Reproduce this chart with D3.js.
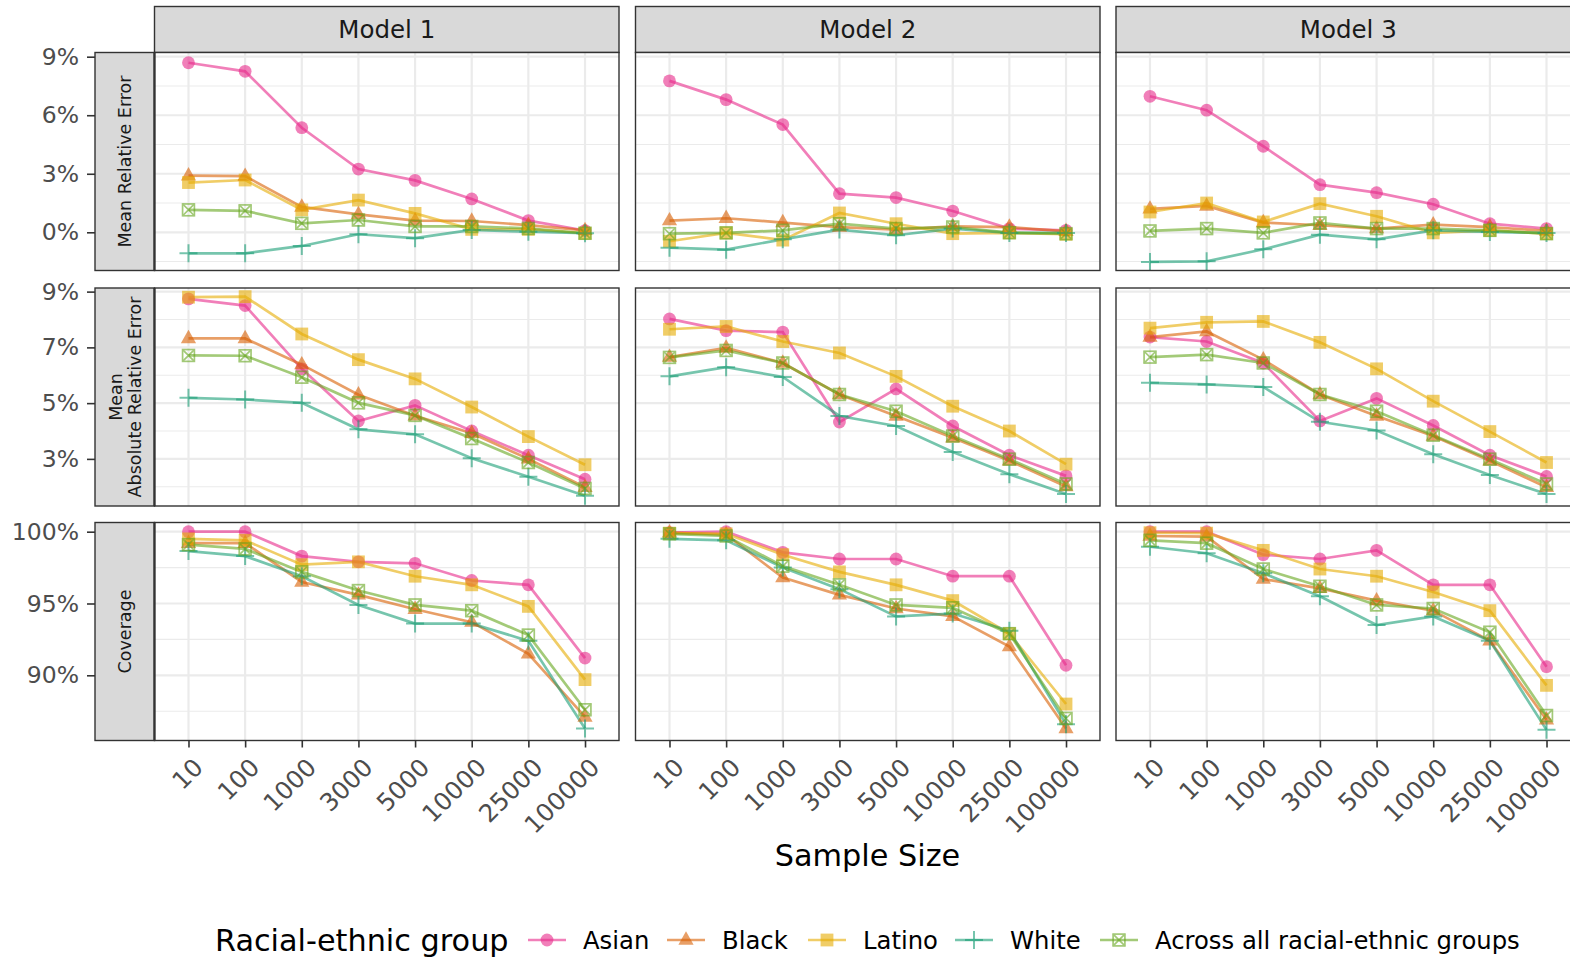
<!DOCTYPE html>
<html><head><meta charset="utf-8">
<script src="https://cdn.jsdelivr.net/npm/d3@7"></script>
<style>
body{margin:0;background:#fff}
text{font-family:"DejaVu Sans",sans-serif}
</style>
</head><body><svg id="c" width="1570" height="959"></svg>
<script>
// ---------------- DATA ----------------
const sampleSizes = ["10","100","1000","3000","5000","10000","25000","100000"];
const models = ["Model 1","Model 2","Model 3"];
const groups = ["Asian","Black","Latino","White","Across all racial-ethnic groups"];
const groupColors = ["#E7298A","#D95F02","#E6AB02","#1B9E77","#66A61E"];
const groupShapes = ["circle","triangle","square","plus","squarecross"];
const metrics = ["Mean Relative Error","Mean\nAbsolute Relative Error","Coverage"];

// Mean Relative Error (%), one row per model
const mreAsian  = [[8.69,8.25,5.36,3.24,2.66,1.71,0.60,0.09],[7.76,6.80,5.52,1.98,1.78,1.09,0.19,0.10],[6.97,6.26,4.41,2.44,2.03,1.44,0.44,0.19]];
const mreBlack  = [[2.90,2.88,1.30,0.92,0.60,0.58,0.37,0.10],[0.60,0.72,0.50,0.27,0.14,0.30,0.27,0.05],[1.20,1.35,0.50,0.36,0.19,0.39,0.27,0.07]];
const mreLatino = [[2.55,2.68,1.15,1.65,0.97,0.15,0.15,-0.05],[-0.46,-0.03,-0.40,0.99,0.44,-0.07,-0.03,-0.10],[1.04,1.50,0.53,1.47,0.82,-0.03,0.10,-0.07]];
const mreWhite  = [[-1.08,-1.08,-0.70,-0.10,-0.30,0.12,0.03,-0.05],[-0.79,-0.89,-0.36,0.14,-0.15,0.19,-0.03,-0.03],[-1.52,-1.49,-0.87,-0.12,-0.36,0.10,0.02,-0.03]];
const mreAll    = [[1.15,1.10,0.46,0.63,0.30,0.30,0.20,-0.05],[-0.07,-0.03,0.10,0.44,0.19,0.27,-0.02,-0.07],[0.07,0.19,-0.03,0.48,0.19,0.19,0.10,-0.07]];

// Mean Absolute Relative Error (%)
const mareAsian  = [[8.74,8.50,6.23,4.36,4.92,4.00,3.13,2.27],[8.02,7.60,7.55,4.32,5.51,4.18,3.13,2.39],[7.37,7.21,6.44,4.36,5.17,4.20,3.13,2.37]];
const mareBlack  = [[7.32,7.32,6.38,5.30,4.55,3.92,3.00,1.98],[6.65,6.98,6.44,5.31,4.54,3.76,2.93,2.01],[7.37,7.57,6.56,5.31,4.54,3.82,2.93,1.98]];
const mareLatino = [[8.80,8.82,7.48,6.56,5.87,4.86,3.80,2.79],[7.65,7.75,7.21,6.80,5.96,4.89,4.00,2.81],[7.69,7.90,7.93,7.18,6.23,5.07,3.98,2.87]];
const mareWhite  = [[5.19,5.13,5.01,4.06,3.88,3.02,2.36,1.68],[5.96,6.29,5.94,4.54,4.18,3.25,2.45,1.74],[5.73,5.67,5.58,4.33,4.02,3.17,2.42,1.74]];
const mareAll    = [[6.71,6.70,5.93,5.01,4.56,3.73,2.87,1.94],[6.64,6.89,6.44,5.31,4.71,3.82,2.99,2.10],[6.65,6.74,6.44,5.31,4.71,3.85,2.99,2.10]];

// Coverage (%)
const covAsian  = [[100,100,98.3,97.9,97.8,96.6,96.3,91.2],[99.93,100,98.56,98.1,98.1,96.9,96.9,90.7],[100,100,98.4,98.1,98.7,96.3,96.3,90.6]];
const covBlack  = [[99.2,99.2,96.5,95.6,94.6,93.7,91.5,87.1],[99.93,99.8,96.8,95.6,94.65,94.1,92.0,86.3],[99.7,99.65,96.7,96.05,95.2,94.5,92.4,86.9]];
const covLatino = [[99.5,99.4,97.7,97.9,96.9,96.3,94.8,89.7],[99.9,99.85,98.4,97.2,96.3,95.2,92.9,88.0],[99.93,99.9,98.7,97.4,96.9,95.8,94.5,89.3]];
const covWhite  = [[98.65,98.3,96.9,94.9,93.6,93.6,92.4,86.3],[99.5,99.4,97.5,96.0,94.1,94.3,93.1,86.6],[98.95,98.5,97.1,95.5,93.5,94.1,92.4,86.2]];
const covAll    = [[99.1,98.8,97.2,95.9,94.9,94.5,92.8,87.6],[99.85,99.7,97.6,96.3,94.9,94.7,92.9,87.0],[99.4,99.2,97.4,96.2,94.9,94.65,93.0,87.2]];

// axis ticks
const yMajorMRE = [0,3,6,9],   yMinorMRE = [-1.5,1.5,4.5,7.5];
const yMajorMARE = [3,5,7,9],  yMinorMARE = [2,4,6,8];
const yMajorCov = [90,95,100], yMinorCov = [87.5,92.5,97.5];
const yDomains = [[-1.958,9.215],[1.31,9.13],[85.46,100.64]];

const seriesByMetric = [
  [mreAsian,mreBlack,mreLatino,mreWhite,mreAll],
  [mareAsian,mareBlack,mareLatino,mareWhite,mareAll],
  [covAsian,covBlack,covLatino,covWhite,covAll]
];
const majors = [yMajorMRE,yMajorMARE,yMajorCov];
const minors = [yMinorMRE,yMinorMARE,yMinorCov];

// ---------------- LAYOUT ----------------
const svg = d3.select("#c");
svg.append("rect").attr("width",1570).attr("height",959).attr("fill","#fff");
const colLeft = [154.5, 635.5, 1116], panelW = 464.5;
const rowTop = [52.5, 288, 522.5], panelH = 218;
const stripTop = 6.5, stripLeft = 95;
const ALPHA = 0.6;

function marker(g, shape, x, y, color){
  const m = g.append("g").attr("transform",`translate(${x},${y})`).attr("opacity",ALPHA);
  if(shape==="circle") m.append("circle").attr("r",6.4).attr("fill",color);
  else if(shape==="triangle") m.append("path").attr("d","M0,-8.7L7.6,4.7L-7.6,4.7Z").attr("fill",color);
  else if(shape==="square") m.append("rect").attr("x",-6.4).attr("y",-6.4).attr("width",12.8).attr("height",12.8).attr("fill",color);
  else if(shape==="plus") m.append("path").attr("d","M-9,0H9M0,-9V9").attr("stroke",color).attr("stroke-width",2).attr("fill","none");
  else if(shape==="squarecross"){
    m.append("rect").attr("x",-5.9).attr("y",-5.9).attr("width",11.8).attr("height",11.8).attr("fill","none").attr("stroke",color).attr("stroke-width",1.7);
    m.append("path").attr("d","M-5.9,-5.9L5.9,5.9M5.9,-5.9L-5.9,5.9").attr("stroke",color).attr("stroke-width",1.7);
  }
}

// Column strips
models.forEach((mname,ci)=>{
  svg.append("rect").attr("x",colLeft[ci]).attr("y",stripTop).attr("width",panelW).attr("height",rowTop[0]-stripTop)
    .attr("fill","#d9d9d9").attr("stroke","#333").attr("stroke-width",1.4);
  svg.append("text").attr("x",colLeft[ci]+panelW/2).attr("y",(stripTop+rowTop[0])/2).attr("dy","0.36em")
    .attr("text-anchor","middle").attr("font-size",24.5).attr("fill","#1a1a1a").text(mname);
});

metrics.forEach((metric,ri)=>{
  const top = rowTop[ri], bottom = top+panelH;
  const y = d3.scaleLinear().domain(yDomains[ri]).range([bottom, top]);

  // row strip
  svg.append("rect").attr("x",stripLeft).attr("y",top).attr("width",colLeft[0]-stripLeft).attr("height",panelH)
    .attr("fill","#d9d9d9").attr("stroke","#333").attr("stroke-width",1.4);
  const lines = metric.split("\n");
  const cx = (stripLeft+colLeft[0])/2, cy = top+panelH/2;
  const st = svg.append("text").attr("transform",`translate(${cx},${cy}) rotate(-90)`)
    .attr("text-anchor","middle").attr("font-size",17.5).attr("fill","#1a1a1a");
  lines.forEach((ln,i)=>{
    st.append("tspan").attr("x",0).attr("y",(i-(lines.length-1)/2)*19).attr("dy","0.36em").text(ln);
  });

  // y axis
  const yAxis = svg.append("g").attr("transform",`translate(${stripLeft},0)`)
    .call(d3.axisLeft(y).tickValues(majors[ri]).tickSize(8).tickPadding(8).tickFormat(d=>d+"%"));
  yAxis.select(".domain").remove();
  yAxis.selectAll(".tick line").attr("stroke","#333").attr("stroke-width",1.6);
  yAxis.selectAll(".tick text").attr("font-size",23.5).attr("fill","#4d4d4d").attr("font-family","DejaVu Sans");

  models.forEach((mname,ci)=>{
    const left = colLeft[ci];
    const x = d3.scalePoint().domain(sampleSizes).range([left,left+panelW]).padding(0.6);
    const p = svg.append("g");
    p.append("rect").attr("x",left).attr("y",top).attr("width",panelW).attr("height",panelH).attr("fill","#fff");
    // grid
    minors[ri].forEach(v=>{
      p.append("line").attr("x1",left).attr("x2",left+panelW).attr("y1",y(v)).attr("y2",y(v))
        .attr("stroke","#ebebeb").attr("stroke-width",1.1);
    });
    majors[ri].forEach(v=>{
      p.append("line").attr("x1",left).attr("x2",left+panelW).attr("y1",y(v)).attr("y2",y(v))
        .attr("stroke","#ebebeb").attr("stroke-width",2.2);
    });
    sampleSizes.forEach(s=>{
      p.append("line").attr("x1",x(s)).attr("x2",x(s)).attr("y1",top).attr("y2",bottom)
        .attr("stroke","#ebebeb").attr("stroke-width",2.2);
    });
    // lines
    const lineGen = d3.line().x((d,i)=>x(sampleSizes[i])).y(d=>y(d));
    seriesByMetric[ri].forEach((ser,gi)=>{
      p.append("path").attr("d",lineGen(ser[ci])).attr("fill","none")
        .attr("stroke",groupColors[gi]).attr("stroke-width",2.7).attr("stroke-opacity",ALPHA);
    });
    seriesByMetric[ri].forEach((ser,gi)=>{
      ser[ci].forEach((v,i)=>marker(p,groupShapes[gi],x(sampleSizes[i]),y(v),groupColors[gi]));
    });
    // border
    p.append("rect").attr("x",left).attr("y",top).attr("width",panelW).attr("height",panelH)
      .attr("fill","none").attr("stroke","#333").attr("stroke-width",1.4);

    if(ri===2){
      const xAxis = svg.append("g").attr("transform",`translate(0,${bottom})`)
        .call(d3.axisBottom(x).tickSize(7).tickPadding(0));
      xAxis.select(".domain").remove();
      xAxis.selectAll(".tick line").attr("stroke","#333").attr("stroke-width",1.6);
      xAxis.selectAll(".tick text").attr("font-size",24.5).attr("fill","#4d4d4d").attr("font-family","DejaVu Sans")
        .attr("x",0).attr("y",0).attr("dy","0.72em").attr("text-anchor","end")
        .attr("transform","translate(3,16) rotate(-45)");
    }
  });
});

// dark left edge at strip/panel joins
rowTop.forEach(t=>{
  svg.append("line").attr("x1",colLeft[0]).attr("x2",colLeft[0]).attr("y1",t).attr("y2",t+panelH)
    .attr("stroke","#333").attr("stroke-width",2.2);
});

// X title
svg.append("text").attr("x",(colLeft[0]+colLeft[2]+panelW)/2).attr("y",866).attr("text-anchor","middle")
  .attr("font-size",30.3).attr("fill","#000").text("Sample Size");

// Legend
const legY = 940;
svg.append("text").attr("x",215).attr("y",legY).attr("dy","0.36em").attr("font-size",30.3).attr("fill","#000").text("Racial-ethnic group");
const keyX = [528, 667, 808, 955, 1100];
groups.forEach((gname,gi)=>{
  const lg = svg.append("g");
  lg.append("line").attr("x1",keyX[gi]).attr("x2",keyX[gi]+38).attr("y1",legY).attr("y2",legY)
    .attr("stroke",groupColors[gi]).attr("stroke-width",2.7).attr("stroke-opacity",ALPHA);
  marker(lg,groupShapes[gi],keyX[gi]+19,legY,groupColors[gi]);
  lg.append("text").attr("x",keyX[gi]+55).attr("y",legY).attr("dy","0.36em").attr("font-size",24.3).attr("fill","#000").text(gname);
});
</script>
</body></html>
